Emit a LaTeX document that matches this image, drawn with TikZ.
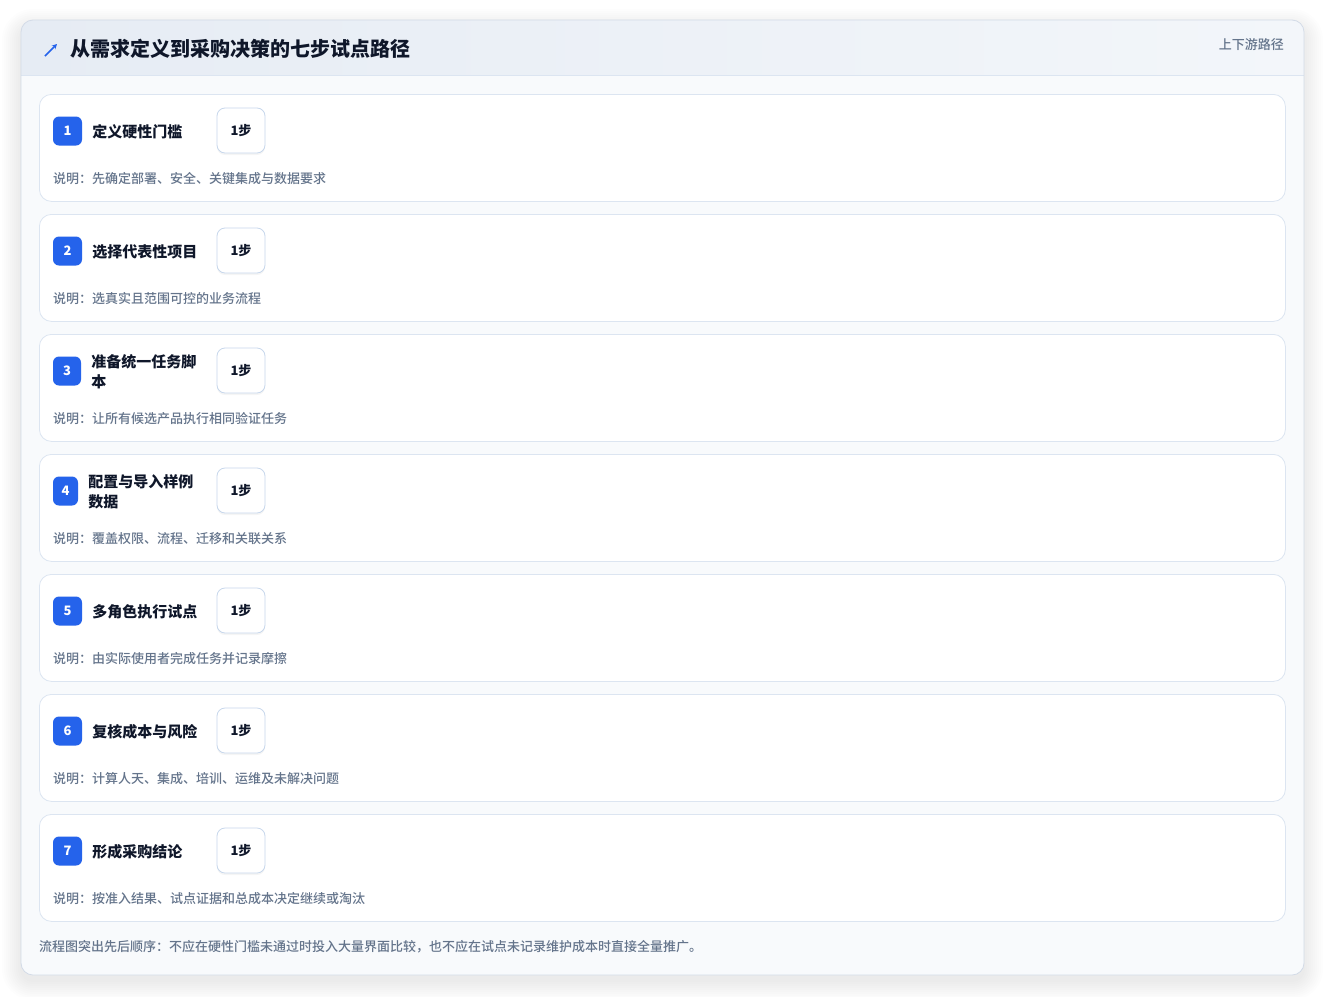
\documentclass[tikz,border=0pt]{standalone}
\usepackage{fontspec}
\setmainfont{Noto Sans CJK SC}
\newfontfamily\medfont{Noto Sans CJK SC Medium}
\usetikzlibrary{positioning,arrows.meta}

\definecolor{accent}{HTML}{2563EB}
\definecolor{ink}{HTML}{0F172A}
\definecolor{muted}{HTML}{64748B}
\definecolor{cardline}{HTML}{DCE5F1}
\definecolor{boxline}{HTML}{C7D7EC}
\definecolor{panelline}{HTML}{D3DBE7}
\definecolor{panelfill}{HTML}{F8FAFC}
\definecolor{headleft}{HTML}{E6ECF4}
\definecolor{headright}{HTML}{F3F6FA}

\tikzset{
  card/.style={draw=cardline, fill=white, rounded corners=12pt, line width=0.8pt, inner sep=0pt},
  badge/.style={fill=accent, rounded corners=6pt, text=white, inner sep=0pt,
    minimum height=29pt, font=\fontsize{13}{13}\selectfont\bfseries},
  steptitle/.style={align=left, text=ink, inner sep=0pt, font=\fontsize{15}{20}\selectfont\bfseries},
  stepbox/.style={draw=boxline, fill=white, rounded corners=8pt, line width=0.8pt,
    minimum width=48pt, minimum height=45pt, inner sep=0pt, text=ink,
    font=\fontsize{13}{13}\selectfont\bfseries,
    preaction={fill=black, opacity=0.04, transform canvas={yshift=-2pt}}},
  desc/.style={anchor=west, text=muted, inner sep=0pt, font=\fontsize{13}{13}\selectfont\medfont},
}

\begin{document}
\begin{tikzpicture}[x=1pt,y=-1pt]
  \useasboundingbox[fill=white] (0,0) rectangle (1325,996);

  % soft shadow under the panel
  \foreach \s in {1,3,...,19}
    \fill[black, opacity=0.008, rounded corners=12pt+\s pt] (21-\s,20-\s+8) rectangle (1304+\s,975+\s+6);

  % panel and header band
  \fill[panelfill, rounded corners=12pt] (21,20) rectangle (1304,975);
  \begin{scope}
    \clip[rounded corners=12pt] (21,20) rectangle (1304,975);
    \shade[left color=headleft, right color=headright] (21,20) rectangle (1304,75);
  \end{scope}
  \draw[cardline, line width=0.8pt] (21,75) -- (1304,75);
  \draw[panelline, line width=0.8pt, rounded corners=12pt] (21,20) rectangle (1304,975);

  \draw[accent, line width=1.6pt, -{Stealth[length=5pt,width=5pt]}] (45,56) -- (57,44);
  \node[anchor=west, text=ink, inner sep=0pt, font=\fontsize{20}{20}\selectfont\bfseries]
    (title) at (70,49) {从需求定义到采购决策的七步试点路径};
  \node[anchor=east, text=muted, inner sep=0pt, font=\fontsize{13}{13}\selectfont\medfont]
    (tag) at (1284,45) {上下游路径};

  % the seven steps
  \foreach \n/\bw/\name/\desc in {
      1/29/{定义硬性门槛}/{先确定部署、安全、关键集成与数据要求},
      2/29/{选择代表性项目}/{选真实且范围可控的业务流程},
      3/28/{准备统一任务脚\\本}/{让所有候选产品执行相同验证任务},
      4/25/{配置与导入样例\\数据}/{覆盖权限、流程、迁移和关联关系},
      5/29/{多角色执行试点}/{由实际使用者完成任务并记录摩擦},
      6/29/{复核成本与风险}/{计算人天、集成、培训、运维及未解决问题},
      7/29/{形成采购结论}/{按准入结果、试点证据和总成本决定继续或淘汰}}
  {
    \pgfmathsetmacro{\top}{94+120*(\n-1)}
    \node[card, anchor=north west, minimum width=1246pt, minimum height=107pt]
      (card\n) at (39,\top) {};
    \node[badge, minimum width=\bw pt] (badge\n) at (53+\bw/2,\top+37) {\n};
    \node[steptitle, right=10pt of badge\n, yshift=-1pt] (name\n) {\name};
    \node[stepbox] (step\n) at (241,\top+36.5) {1步};
    \node[desc] (desc\n) at (53,\top+85) {说明：\desc};
  }

  \node[desc] (note) at (39,947)
    {流程图突出先后顺序：不应在硬性门槛未通过时投入大量界面比较，也不应在试点未记录维护成本时直接全量推广。};
\end{tikzpicture}
\end{document}
